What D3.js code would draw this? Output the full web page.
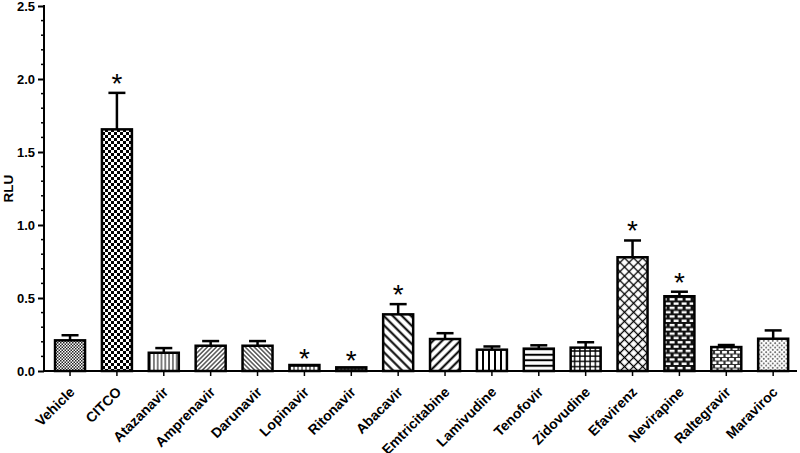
<!DOCTYPE html>
<html>
<head>
<meta charset="utf-8">
<script src="https://cdn.jsdelivr.net/npm/d3@7"></script>
<style>
  body { margin: 0; background: #fff; }
  svg { display: block; font-family: "Liberation Sans", Arial, sans-serif; }
</style>
</head>
<body>
<script>
// chart data
var drugs = ['Vehicle', 'CITCO', 'Atazanavir', 'Amprenavir', 'Darunavir', 'Lopinavir',
  'Ritonavir', 'Abacavir', 'Emtricitabine', 'Lamivudine', 'Tenofovir', 'Zidovudine',
  'Efavirenz', 'Nevirapine', 'Raltegravir', 'Maraviroc'];
var rlu = [0.21, 1.655, 0.125, 0.173, 0.173, 0.041, 0.025, 0.388, 0.219, 0.146,
  0.153, 0.16, 0.779, 0.512, 0.164, 0.221];
var sem = [0.035, 0.25, 0.032, 0.032, 0.032, 0, 0, 0.07, 0.04, 0.022,
  0.023, 0.037, 0.115, 0.031, 0.014, 0.057];
var starred = [false, true, false, false, false, true, true, true, false, false,
  false, false, true, true, false, false];
var fills = ['fineCheck', 'bigCheck', 'vLines', 'fwdFine', 'backFine', 'smallGrid',
  'smallGrid2', 'backWide', 'fwdWide', 'vThick', 'hLines', 'grid', 'diamond',
  'brickDark', 'brickLight', 'dots'];
var yTicks = [0, 0.5, 1, 1.5, 2, 2.5];

var width = 800, height = 453;
var axisX = 44, baseY = 371;

var svg = d3.select('body').append('svg')
  .attr('width', width)
  .attr('height', height);

var defs = svg.append('defs');

function pattern(id, w, h, rotate) {
  var p = defs.append('pattern')
    .attr('id', id)
    .attr('patternUnits', 'userSpaceOnUse')
    .attr('width', w)
    .attr('height', h);
  if (rotate) p.attr('patternTransform', 'rotate(' + rotate + ')');
  p.append('rect').attr('width', w).attr('height', h).attr('fill', '#fff');
  return p;
}
function line(p, x1, y1, x2, y2, sw) {
  p.append('line').attr('x1', x1).attr('y1', y1).attr('x2', x2).attr('y2', y2)
    .attr('stroke', '#000').attr('stroke-width', sw);
}
function sq(p, x, y, w, h, c) {
  p.append('rect').attr('x', x).attr('y', y).attr('width', w).attr('height', h)
    .attr('fill', c || '#000');
}

var p;
p = pattern('fineCheck', 3, 3); sq(p, 0, 0, 1.5, 1.5, '#222'); sq(p, 1.5, 1.5, 1.5, 1.5, '#222');
p = pattern('bigCheck', 6, 6); sq(p, 0, 0, 3, 3); sq(p, 3, 3, 3, 3);
p = pattern('vLines', 3.8, 10); line(p, 1.9, 0, 1.9, 10, 1);
p = pattern('fwdFine', 3.2, 10, 45); line(p, 1.6, 0, 1.6, 10, 1);
p = pattern('backFine', 3.2, 10, -45); line(p, 1.6, 0, 1.6, 10, 1);
p = pattern('smallGrid', 4, 5); line(p, 0, 1, 4, 1, 1.5); line(p, 2, 0, 2, 5, 1);
p = pattern('smallGrid2', 3.5, 4); line(p, 0, 1, 3.5, 1, 1.5); line(p, 1.75, 0, 1.75, 4, 1);
p = pattern('backWide', 6.4, 10, -45); line(p, 3.2, 0, 3.2, 10, 2);
p = pattern('fwdWide', 6.4, 10, 45); line(p, 3.2, 0, 3.2, 10, 2);
p = pattern('vThick', 6, 10); line(p, 3, 0, 3, 10, 2);
p = pattern('hLines', 10, 5.5); line(p, 0, 2.75, 10, 2.75, 2);
p = pattern('grid', 5.2, 5.2); line(p, 0, 2.6, 5.2, 2.6, 1.4); line(p, 2.6, 0, 2.6, 5.2, 1.4);
p = pattern('diamond', 6.4, 6.4, 45); line(p, 0, 3.2, 6.4, 3.2, 1.3); line(p, 3.2, 0, 3.2, 6.4, 1.3);
p = pattern('brickDark', 8, 8.6);
sq(p, 0, 0, 8, 8.6, '#111');
sq(p, 1.6, 1.4, 5, 2.4, '#fff'); sq(p, 5.6, 5.7, 5, 2.4, '#fff'); sq(p, -2.4, 5.7, 5, 2.4, '#fff');
p = pattern('brickLight', 7, 7);
sq(p, 0, 0, 7, 7, '#333');
sq(p, 1.1, 1, 4.8, 2.5, '#fff'); sq(p, 4.6, 4.5, 4.8, 2.5, '#fff'); sq(p, -2.4, 4.5, 4.8, 2.5, '#fff');
p = pattern('dots', 4.5, 4.5);
p.append('circle').attr('cx', 1.1).attr('cy', 1.1).attr('r', 0.85).attr('fill', '#444');
p.append('circle').attr('cx', 3.35).attr('cy', 3.35).attr('r', 0.85).attr('fill', '#444');

// scales
var x = d3.scaleBand()
  .domain(drugs)
  .range([46.6, 796.6])
  .paddingInner(0.36)
  .paddingOuter(0.18);

var y = d3.scaleLinear()
  .domain([0, 2.5])
  .range([baseY, 6]);

var bars = svg.append('g').selectAll('g')
  .data(drugs)
  .enter()
  .append('g');

// error bars (upper only)
bars.filter(function(d, i) { return sem[i] > 0; })
  .each(function(d) {
    var i = drugs.indexOf(d);
    var cx = x(d) + x.bandwidth() / 2;
    var g = d3.select(this);
    g.append('line')
      .attr('x1', cx).attr('x2', cx)
      .attr('y1', y(rlu[i])).attr('y2', y(rlu[i] + sem[i]))
      .attr('stroke', '#000').attr('stroke-width', 2.5);
    g.append('line')
      .attr('x1', cx - 8.5).attr('x2', cx + 8.5)
      .attr('y1', y(rlu[i] + sem[i])).attr('y2', y(rlu[i] + sem[i]))
      .attr('stroke', '#000').attr('stroke-width', 2.5);
  });

bars.append('rect')
  .attr('x', function(d) { return x(d); })
  .attr('y', function(d, i) { return y(rlu[i]); })
  .attr('width', x.bandwidth())
  .attr('height', function(d, i) { return baseY - y(rlu[i]); })
  .attr('fill', function(d, i) { return 'url(#' + fills[i] + ')'; })
  .attr('stroke', '#000')
  .attr('stroke-width', 2.5);

// significance stars
bars.filter(function(d, i) { return starred[i]; })
  .append('text')
  .attr('x', function(d) { return x(d) + x.bandwidth() / 2; })
  .attr('y', function(d) {
    var i = drugs.indexOf(d);
    return y(rlu[i] + sem[i]) + (sem[i] > 0 ? 0 : 3);
  })
  .attr('text-anchor', 'middle')
  .style('font-size', '28px')
  .text('*');

// left axis
var yAxis = d3.axisLeft(y)
  .tickValues(yTicks)
  .tickFormat(d3.format('.1f'))
  .tickSize(6)
  .tickPadding(3);
var yg = svg.append('g')
  .attr('transform', 'translate(' + axisX + ',0)')
  .call(yAxis);
yg.select('.domain').remove();
yg.append('line')
  .attr('x1', 0).attr('x2', 0)
  .attr('y1', y(2.5) - 1).attr('y2', baseY + 1)
  .attr('stroke', '#000').attr('stroke-width', 2);
yg.selectAll('.tick line').attr('stroke-width', 2);
yg.selectAll('.tick text')
  .style('font-size', '13px')
  .style('font-weight', 'bold')
  .attr('fill', '#000');
yg.selectAll('.minor')
  .data(d3.range(0, 2.5, 0.1).filter(function(v) { return Math.round(v * 10) % 5 !== 0; }))
  .enter()
  .append('line')
  .attr('x1', -3).attr('x2', 0)
  .attr('y1', function(d) { return y(d); })
  .attr('y2', function(d) { return y(d); })
  .attr('stroke', '#000').attr('stroke-width', 1.5);

svg.append('text')
  .attr('transform', 'translate(12.5,' + y(1.25) + ') rotate(-90)')
  .attr('text-anchor', 'middle')
  .style('font-size', '13.5px')
  .style('font-weight', 'bold')
  .text('RLU');

// bottom axis
var xAxis = d3.axisBottom(x).tickSize(5).tickPadding(4);
var xg = svg.append('g')
  .attr('transform', 'translate(0,' + baseY + ')')
  .call(xAxis);
xg.select('.domain').remove();
xg.append('line')
  .attr('x1', axisX - 1).attr('x2', 797)
  .attr('y1', 0).attr('y2', 0)
  .attr('stroke', '#000').attr('stroke-width', 2);
xg.selectAll('.tick line').attr('stroke-width', 1.5);
xg.selectAll('.tick text')
  .style('font-size', '14px')
  .style('font-weight', 'bold')
  .attr('fill', '#000')
  .style('text-anchor', 'end')
  .attr('dx', 0)
  .attr('dy', 0)
  .attr('transform', 'translate(-1,15.5) rotate(-45)');
</script>
</body>
</html>
